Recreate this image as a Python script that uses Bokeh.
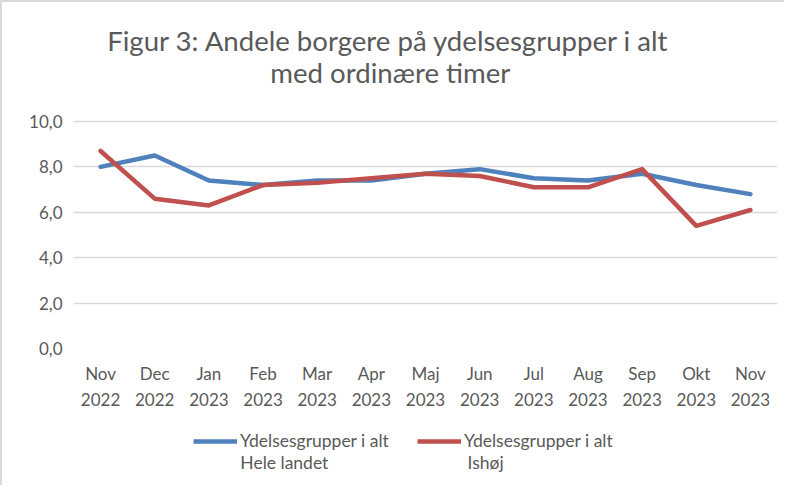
from bokeh.plotting import figure
from bokeh.layouts import column
from bokeh.models import (FixedTicker, Legend, LegendItem, Label, Range1d)
from bokeh.embed import file_html
from bokeh.resources import INLINE

# ---- data ----
months = ["Nov", "Dec", "Jan", "Feb", "Mar", "Apr", "Maj", "Jun", "Jul", "Aug", "Sep", "Okt", "Nov"]
years = ["2022", "2022", "2023", "2023", "2023", "2023", "2023", "2023", "2023", "2023", "2023", "2023", "2023"]
hele_landet = [8.0, 8.5, 7.4, 7.2, 7.4, 7.4, 7.7, 7.9, 7.5, 7.4, 7.7, 7.2, 6.8]
ishoej = [8.7, 6.6, 6.3, 7.2, 7.3, 7.5, 7.7, 7.6, 7.1, 7.1, 7.9, 5.4, 6.1]
y_ticks = [0, 2, 4, 6, 8, 10]
y_tick_labels = ["0,0", "2,0", "4,0", "6,0", "8,0", "10,0"]
series_first_lines = ["Ydelsesgrupper i alt", "Ydelsesgrupper i alt"]
series_second_lines = ["Hele landet", "Ishøj"]
title_lines = ["Figur 3: Andele borgere på ydelsesgrupper i alt", "med ordinære timer"]

FONT = "Lato"
GREY = "#595959"
BLUE = "#4f81bd"
RED = "#c0504d"

x = list(range(len(months)))

# main chart: frame reaches to the top so the title can sit inside it
p = figure(width=782, height=420, output_backend="svg", toolbar_location=None,
           x_range=Range1d(-0.5, len(months) - 0.5), y_range=Range1d(0, 15.24),
           min_border_left=71, min_border_right=7, min_border_top=0, min_border_bottom=74)
p.outline_line_color = None
p.background_fill_color = "white"
p.border_fill_color = "white"

r1 = p.line(x, hele_landet, line_color=BLUE, line_width=4.5, line_join="round", line_cap="round")
r2 = p.line(x, ishoej, line_color=RED, line_width=4.5, line_join="round", line_cap="round")

p.xaxis.ticker = FixedTicker(ticks=x)
p.xaxis.major_label_overrides = {i: f"{m}\n{yv}" for i, (m, yv) in enumerate(zip(months, years))}
p.yaxis.ticker = FixedTicker(ticks=y_ticks)
p.yaxis.major_label_overrides = {t: l for t, l in zip(y_ticks, y_tick_labels)}
for ax in (p.xaxis, p.yaxis):
    ax.axis_line_color = None
    ax.major_tick_line_color = None
    ax.minor_tick_line_color = None
    ax.major_tick_out = 0
    ax.major_label_text_font = FONT
    ax.major_label_text_font_size = "17px"
    ax.major_label_text_color = GREY
p.xaxis.major_label_text_line_height = 1.25
p.xaxis.major_label_standoff = 14
p.yaxis.major_label_standoff = 11

p.xgrid.grid_line_color = None
p.ygrid.grid_line_color = "#d9d9d9"
p.ygrid.grid_line_width = 1.5
p.ygrid.ticker = FixedTicker(ticks=y_ticks)

# two-line title
for txt, xx, yy in zip(title_lines, [5.32, 5.35], [13.57, 12.15]):
    p.add_layout(Label(x=xx, y=yy, text=txt, text_align="center", text_baseline="alphabetic",
                       text_font=FONT, text_font_size="27.6px", text_color=GREY))

# legend strip below the chart (series drawn off-view so only the legend shows)
p2 = figure(width=782, height=63, output_backend="svg", toolbar_location=None,
            x_range=Range1d(0, 1), y_range=Range1d(0, 1),
            min_border_left=0, min_border_right=0, min_border_top=0, min_border_bottom=0)
p2.axis.visible = False
p2.grid.visible = False
p2.outline_line_color = None
d1 = p2.line(x, hele_landet, line_color=BLUE, line_width=4.5)
d2 = p2.line(x, ishoej, line_color=RED, line_width=4.5)
legend = Legend(items=[LegendItem(label=series_first_lines[0], renderers=[d1]),
                       LegendItem(label=series_first_lines[1], renderers=[d2])],
                location=(120, 34), orientation="horizontal",
                glyph_width=44, glyph_height=20, label_standoff=3, spacing=28, padding=0, margin=0,
                border_line_color=None, background_fill_alpha=0,
                label_text_font=FONT, label_text_font_size="17.5px", label_text_color=GREY)
p2.add_layout(legend, "center")

# second line of each legend entry
for txt, xx in zip(series_second_lines, [0.237, 0.5597]):
    p2.add_layout(Label(x=xx, y=0.365, text=txt, text_align="left", text_baseline="middle",
                        text_font=FONT, text_font_size="17.5px", text_color=GREY))

layout = column(p, p2, spacing=0)
layout.styles = {"border-top": "2px solid #d9d9d9", "border-left": "2px solid #d9d9d9"}

open("out.html", "w").write(file_html(layout, INLINE))
